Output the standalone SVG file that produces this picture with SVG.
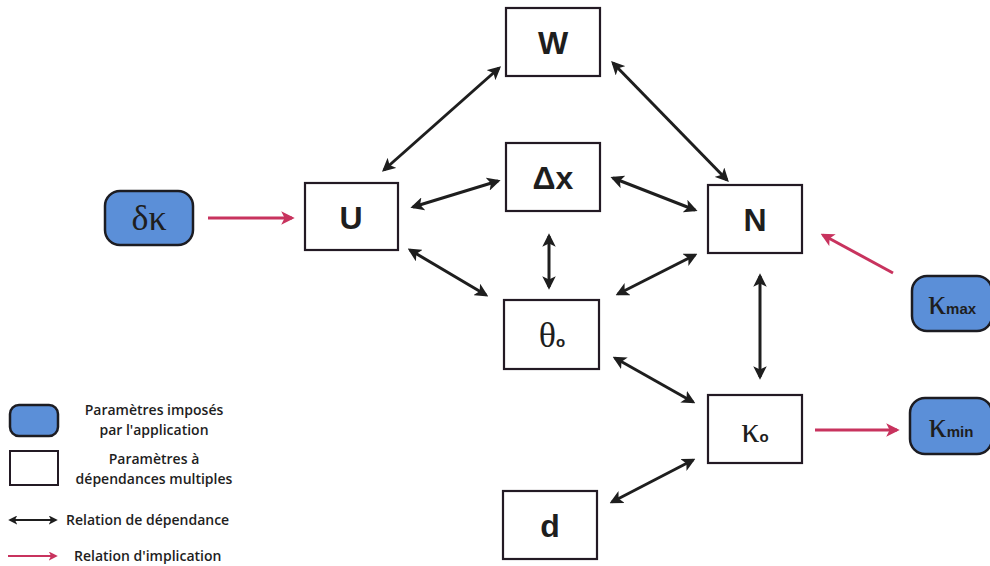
<svg xmlns="http://www.w3.org/2000/svg" width="990" height="566" viewBox="0 0 990 566">
<style>
.box{fill:#fff;stroke:#231a24;stroke-width:2.2}
.blue{fill:#5b8fd8;stroke:#1c1c22;stroke-width:2.5}
.lbl{font-family:"Liberation Sans",Arial,sans-serif;font-weight:bold;font-size:32px;fill:#1e1e1e;text-anchor:middle}
.gr{font-family:"Liberation Serif","Times New Roman",serif;font-size:36px;fill:#1e1e1e;text-anchor:middle}
.sub{font-family:"Liberation Sans",Arial,sans-serif;font-size:15px;font-weight:bold}
.leg{font-family:"Open Sans","Liberation Sans",sans-serif;font-weight:600;font-size:14px;fill:#1e1e1e;text-anchor:middle}
.dep{stroke:#1e1e1e;stroke-width:3;fill:none;marker-start:url(#hb);marker-end:url(#hb)}
.imp{stroke:#c8335e;stroke-width:3;fill:none;marker-end:url(#hr)}
</style>
<defs>
<marker id="hb" viewBox="0 0 10 10" refX="8" refY="5" markerWidth="4.5" markerHeight="4.5" orient="auto-start-reverse" markerUnits="strokeWidth"><path d="M0,0 L10,5 L0,10 L2.5,5 Z" fill="#1e1e1e"/></marker>
<marker id="hr" viewBox="0 0 10 10" refX="8" refY="5" markerWidth="4.5" markerHeight="4.5" orient="auto" markerUnits="strokeWidth"><path d="M0,0 L10,5 L0,10 L2.5,5 Z" fill="#c8335e"/></marker>
</defs>
<g id="connectors">
<line class="dep" x1="384" y1="170" x2="499" y2="68"/>
<line class="dep" x1="613" y1="63" x2="727" y2="180"/>
<line class="dep" x1="413" y1="207" x2="498" y2="181"/>
<line class="dep" x1="613" y1="178" x2="695" y2="210"/>
<line class="dep" x1="410" y1="250" x2="486" y2="295"/>
<line class="dep" x1="549" y1="236" x2="549" y2="287"/>
<line class="dep" x1="695" y1="255" x2="618" y2="294"/>
<line class="dep" x1="615" y1="358" x2="693" y2="402"/>
<line class="dep" x1="760" y1="276" x2="760" y2="377"/>
<line class="dep" x1="612" y1="502" x2="693" y2="460"/>
<line class="imp" x1="208" y1="218" x2="292" y2="218"/>
<line class="imp" x1="893" y1="273" x2="823" y2="235"/>
<line class="imp" x1="815" y1="430" x2="897" y2="430"/>
</g>
<g id="W"><rect class="box" x="506" y="8" width="94" height="68"/><text class="lbl" x="553" y="54">W</text></g>
<g id="dx"><rect class="box" x="506" y="143" width="94" height="68"/><text class="lbl" x="553" y="189">Δx</text></g>
<g id="U"><rect class="box" x="305" y="183" width="93" height="67"/><text class="lbl" x="351" y="229">U</text></g>
<g id="N"><rect class="box" x="708" y="185" width="94" height="68"/><text class="lbl" x="755" y="231">N</text></g>
<g id="d"><rect class="box" x="503" y="491" width="94" height="68"/><text class="lbl" x="550" y="537">d</text></g>
<g id="theta0"><rect class="box" x="504" y="300" width="95" height="69"/><text class="gr" x="552" y="347">θ<tspan class="sub">o</tspan></text></g>
<g id="kappa0"><rect class="box" x="708" y="395" width="94" height="68"/><text class="gr" x="755" y="442">κ<tspan class="sub">o</tspan></text></g>
<g id="dk"><rect class="blue" x="105" y="191" width="88" height="54" rx="15"/><text class="gr" x="149" y="230">δκ</text></g>
<g id="kmax"><rect class="blue" x="912" y="276" width="80" height="55" rx="15"/><text class="gr" x="952" y="314">κ<tspan class="sub">max</tspan></text></g>
<g id="kmin"><rect class="blue" x="910" y="398" width="82" height="56" rx="15"/><text class="gr" x="951" y="437">κ<tspan class="sub">min</tspan></text></g>
<g id="legend">
<rect class="blue" x="10" y="405" width="48" height="31" rx="9"/>
<rect class="box" x="10" y="451" width="48" height="34" style="stroke-width:2"/>
<text class="leg" x="154" y="415">Paramètres imposés</text>
<text class="leg" x="154" y="435">par l'application</text>
<text class="leg" x="154" y="464">Paramètres à</text>
<text class="leg" x="154" y="484">dépendances multiples</text>
<line x1="10" y1="520" x2="56" y2="520" stroke="#1e1e1e" stroke-width="2" marker-start="url(#hb)" marker-end="url(#hb)"/>
<text class="leg" x="66" y="525" style="text-anchor:start">Relation de dépendance</text>
<line x1="8" y1="556" x2="56" y2="556" stroke="#c8335e" stroke-width="2" marker-end="url(#hr)"/>
<text class="leg" x="74" y="561" style="text-anchor:start">Relation d'implication</text>
</g>
</svg>
